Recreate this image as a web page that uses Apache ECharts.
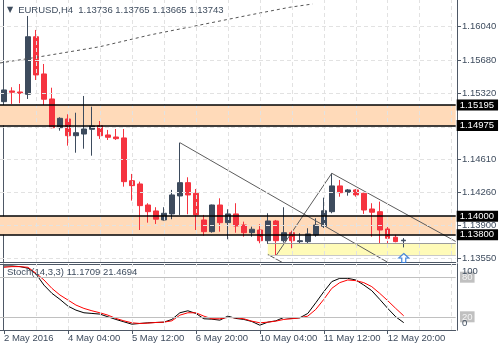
<!DOCTYPE html>
<html><head><meta charset="utf-8">
<script src="https://cdn.jsdelivr.net/npm/echarts@6/dist/echarts.min.js"></script>
<style>html,body{margin:0;padding:0;background:#fff}#c{width:500px;height:350px}</style>
</head><body><div id="c"></div>
<script>
// ---- data (H4 bars from 2 May 2016 20:00) ----
const opens  = [1.15232,1.15347,1.15336,1.15311,1.15930,1.15530,1.15261,1.14952,1.15046,1.14866,
                1.14884,1.14935,1.14974,1.14874,1.14852,1.14842,1.14382,1.14347,1.14121,1.14057,
                1.13960,1.14025,1.14218,1.14361,1.14247,1.13960,1.13834,1.14121,1.13931,1.14025,
                1.13906,1.13823,1.13852,1.13737,1.13949,1.13737,1.13823,1.13727,1.13727,1.13799,
                1.13892,1.14049,1.14326,1.14258,1.14283,1.14247,1.14078,1.14049,1.13863,1.13774,1.13736];
const highs  = [1.15368,1.15387,1.15422,1.16153,1.16003,1.15637,1.15382,1.15064,1.15096,1.15113,
                1.15293,1.15178,1.15024,1.14928,1.14938,1.14938,1.14455,1.14372,1.14140,1.14097,
                1.14097,1.14283,1.14791,1.14419,1.14293,1.14014,1.14125,1.14193,1.14075,1.14140,
                1.13942,1.13888,1.13914,1.14032,1.13960,1.14097,1.13845,1.13817,1.13871,1.13978,
                1.14200,1.14462,1.14390,1.14293,1.14293,1.14253,1.14140,1.14157,1.13906,1.13799,1.13765];
const lows   = [1.15218,1.15207,1.15215,1.15261,1.15465,1.15196,1.14946,1.14920,1.14759,1.14683,
                1.14726,1.14651,1.14831,1.14820,1.14820,1.14318,1.14168,1.13852,1.13931,1.13917,
                1.13953,1.13968,1.14014,1.14021,1.13852,1.13791,1.13823,1.13834,1.13752,1.13823,
                1.13780,1.13780,1.13709,1.13702,1.13573,1.13716,1.13656,1.13702,1.13702,1.13780,
                1.13874,1.14032,1.14210,1.14221,1.14210,1.14025,1.13780,1.13702,1.13702,1.13720,1.13665];
const closes = [1.15358,1.15333,1.15322,1.15930,1.15519,1.15258,1.14952,1.15053,1.14866,1.14898,
                1.14938,1.14970,1.14866,1.14849,1.14834,1.14372,1.14329,1.14114,1.14049,1.13968,
                1.14032,1.14229,1.14361,1.14229,1.14014,1.13834,1.14121,1.13931,1.14025,1.13895,
                1.13823,1.13860,1.13737,1.13949,1.13737,1.13823,1.13737,1.13737,1.13810,1.13906,
                1.14059,1.14326,1.14253,1.14283,1.14229,1.14067,1.14043,1.13852,1.13763,1.13727,1.13743];
const stochK = [97,97,96,93.6,85,68,55.5,46.4,36.2,30.1,26.1,25.1,24.1,20,16,12.4,8.8,9.9,10.9,11.4,
                11.9,16,26.1,29.1,25.1,17,16.4,14.9,21,17.5,16,12.9,7.3,11.9,13.9,19,17.5,18.5,25.1,41.3,
                58,73.3,78.3,78.3,75.8,68.2,59.6,46.4,32.7,20,11.17];
const stochD = [95,96,96,95,86,75.8,63,53,45.4,37.8,32.7,29.1,26.1,22.5,17.5,13.9,10.9,9.9,10.4,11.4,
                11.9,13.9,22.5,26.1,26.1,21,17,17,19,18.5,17,13.4,10.9,11.9,13.4,16,17,18.5,21,31.2,
                46.4,63.1,71.8,75.8,74.8,71.8,65.7,55.5,44.4,32.7,21.47];
const maPoints = [[-0.5,1.15648],[4.5,1.15715],[12,1.15823],[18.25,1.15949],[24.5,1.16056],
                  [30.75,1.16164],[35.75,1.16247],[38.6,1.16282]];
const trendLines = [
  [[22,1.14791],[50,1.13406]],
  [[34,1.13573],[41,1.14462]],
  [[41,1.14462],[56.5,1.13729]],
  [[33,1.13589],[36,1.13447]]
];
const zones = [[1.15195,1.14975],[1.14000,1.13800]];
const supportBox = {from: 33, to: 56.5, top: 1.13713, bottom: 1.13581};
const levelLines = [1.15195,1.14975,1.14000,1.13800];
const lastPrice = 1.13743;
const arrowPoint = [50, 1.13551];
const slotCount = 57;
const categories = Array.from({length: slotCount}, (_, i) => i);
const xTickLabels = ['2 May 2016','4 May 04:00','5 May 12:00','6 May 20:00','10 May 04:00','11 May 12:00','12 May 20:00'];
const priceTicks = [1.16040,1.15680,1.15320,1.14610,1.14260,1.13900,1.13550];
const priceGrid  = [1.16040,1.15680,1.15320,1.14960,1.14610,1.14260,1.13900,1.13550];
const stochLevelTicks = [20,80];
const stochTopTick = [100];
const stochBottomLabel = '0';
const stochLevels = [80,20];
const yMin = 1.13508, yMax = 1.16325;
const titleText = 'EURUSD,H4  1.13736 1.13765 1.13665 1.13743';
const stochText = 'Stoch(14,3,3) 11.1709 21.4694';

// ---- styles ----
const textColor = '#3e4c5e', font = 'Liberation Sans', fs = 9.5;
const frame = '#4e5866';
const bull = '#3d4b5d', bear = '#f5333f';
const gridDash = {color:'#e2e2e2', type:[4,3], width:1};
const vGrid = categories.filter(i => i > 0 && i % 4 === 0);

const chart = echarts.init(document.getElementById('c'), null, {renderer:'canvas'});
const lineAx = {show:true, onZero:false, lineStyle:{color:frame, width:1}};
const plainText = {fontFamily:font, fontSize:fs, fontWeight:'normal', color:textColor};
const option = {
  animation: false,
  title: [
    {left:5, top:5, padding:0, text:'{t|▼}' + titleText,
     textStyle:Object.assign({}, plainText, {
       rich:{t:{fontFamily:'DejaVu Sans', fontSize:8, color:textColor, padding:[0,5,0,2]}}})},
    {left:7, top:267, padding:0, text:stochText, textStyle:plainText},
    {left:462, top:318, padding:0, text:stochBottomLabel, textStyle:plainText}
  ],
  grid: [
    {left:-0.3, width:456, top:0, height:262},
    {left:-0.3, width:456, top:264, height:66}
  ],
  xAxis: [
    {type:'category', gridIndex:0, data:categories, boundaryGap:true, axisLine:lineAx,
     axisTick:{show:false}, axisLabel:{show:false}, splitLine:{show:false}},
    {type:'category', gridIndex:1, data:categories, boundaryGap:true, axisLine:lineAx,
     axisTick:{show:true, alignWithLabel:true, length:4, interval:(i)=> i % 8 === 0 && i <= 48, lineStyle:{color:frame}},
     axisLabel:{interval:(i)=> i % 8 === 0 && i <= 48, align:'left', margin:3, color:textColor, fontFamily:font, fontSize:fs,
       formatter:(v, i)=> xTickLabels[i / 8] || ''},
     splitLine:{show:false}},
    {type:'value', gridIndex:0, min:-0.5, max:slotCount - 0.5, show:false},
    {type:'category', gridIndex:1, data:categories, position:'top', axisLine:lineAx,
     axisTick:{show:false}, axisLabel:{show:false}, splitLine:{show:false}}
  ],
  yAxis: [
    {type:'value', gridIndex:0, position:'right', offset:1.3, min:yMin, max:yMax, scale:true,
     axisLine:lineAx,
     axisTick:{show:true, length:4, customValues:priceTicks, lineStyle:{color:frame}},
     axisLabel:{customValues:priceTicks, formatter:v=> Number(v).toFixed(5), margin:5,
       color:textColor, fontFamily:font, fontSize:fs},
     splitLine:{show:false}},
    {type:'value', gridIndex:1, position:'right', offset:1.3, min:0, max:100,
     axisLine:lineAx, axisTick:{show:false},
     axisLabel:{customValues:stochLevelTicks, margin:3, hideOverlap:false,
       formatter:v=> '{box|' + v + '}',
       rich:{box:{fontFamily:font, fontSize:fs, color:'#f4f4f4', backgroundColor:'#c0c0c0', padding:[1,2,0,2]}}},
     splitLine:{show:false}},
    {type:'value', gridIndex:0, position:'left', offset:-3, axisLine:lineAx,
     axisTick:{show:false}, axisLabel:{show:false}, splitLine:{show:false}},
    {type:'value', gridIndex:1, position:'left', offset:-3, axisLine:lineAx,
     axisTick:{show:false}, axisLabel:{show:false}, splitLine:{show:false}},
    {type:'value', gridIndex:1, position:'right', offset:1.3, min:0, max:100,
     axisLine:lineAx, axisTick:{show:false}, splitLine:{show:false},
     axisLabel:{customValues:stochTopTick, margin:5, verticalAlign:'top', hideOverlap:false,
       showMaxLabel:true, color:textColor, fontFamily:font, fontSize:fs, padding:[2,0,0,0]}}
  ],
  series: [
    {type:'line', xAxisIndex:2, yAxisIndex:0, data:[], z:1, silent:true,
     markArea:{silent:true, precision:5, itemStyle:{color:'#ffdab9'},
       data: zones.map(z => [{yAxis:z[0]}, {yAxis:z[1]}]).concat([[
         {coord:[supportBox.from, supportBox.top], itemStyle:{color:'#fffbb8'}},
         {coord:[supportBox.to, supportBox.bottom]}]])}},
    {type:'line', xAxisIndex:2, yAxisIndex:0, data:[], z:2, silent:true,
     markLine:{silent:true, precision:5, symbol:'none', label:{show:false}, lineStyle:gridDash, animation:false,
       data: priceGrid.map(v => ({yAxis:v})).concat(vGrid.map(i => ({xAxis:i})))
         .concat([[{coord:[supportBox.from, supportBox.top], lineStyle:{color:'#9a9a9a', type:'solid'}},
                   {coord:[supportBox.to, supportBox.top]}],
                  [{coord:[supportBox.from, supportBox.bottom], lineStyle:{color:'#c8c8c8', type:'solid'}},
                   {coord:[supportBox.to, supportBox.bottom]}]])}},
    {type:'line', xAxisIndex:1, yAxisIndex:1, data:[], z:2, silent:true,
     markLine:{silent:true, precision:3, symbol:'none', label:{show:false}, lineStyle:gridDash, animation:false,
       data: vGrid.map(i => ({xAxis:i}))
         .concat(stochLevels.map(v => ({yAxis:v, lineStyle:{color:'#c0c0c0', type:'solid'}})))}},
    {type:'candlestick', name:'EURUSD', xAxisIndex:0, yAxisIndex:0, z:3, barWidth:5,
     data: opens.map((o, i) => [o, closes[i], lows[i], highs[i]]),
     itemStyle:{color:bull, color0:bear, borderColor:bull, borderColor0:bear, borderWidth:1},
     markLine:{silent:true, precision:5, symbol:'none', animation:false,
       lineStyle:{color:'#000', width:1.5, type:'solid'},
       label:{show:true, position:'end', distance:1, formatter:p => Number(p.value).toFixed(5),
         color:'#fff', backgroundColor:'#000', padding:[1,4,0,3], fontFamily:font, fontSize:fs},
       data: [{yAxis:lastPrice, lineStyle:{opacity:0}}].concat(levelLines.map(v => ({yAxis:v})))}},
    {type:'line', xAxisIndex:2, yAxisIndex:0, data:maPoints, z:4, symbol:'none', silent:true, clip:true,
     lineStyle:{color:'#555', width:1, type:[3,3]}},
    ...trendLines.map(t => ({type:'line', xAxisIndex:2, yAxisIndex:0, data:t, z:4, symbol:'none',
      silent:true, clip:true, lineStyle:{color:'#5c5c5c', width:1}})),
    {type:'scatter', xAxisIndex:2, yAxisIndex:0, data:[arrowPoint], z:5, silent:true,
     symbol:'path://M5 0 L10 5 L7 5 L7 10 L3 10 L3 5 L0 5 Z', symbolSize:[10,9],
     itemStyle:{color:'#ffffff', borderColor:'#1f6fd6', borderWidth:1.2}},
    {type:'line', xAxisIndex:1, yAxisIndex:1, data:stochK, z:3, symbol:'none', silent:true,
     lineStyle:{color:'#000', width:1}},
    {type:'line', xAxisIndex:1, yAxisIndex:1, data:stochD, z:3, symbol:'none', silent:true,
     lineStyle:{color:'#ff0000', width:1}}
  ]
};
chart.setOption(option);
</script></body></html>
